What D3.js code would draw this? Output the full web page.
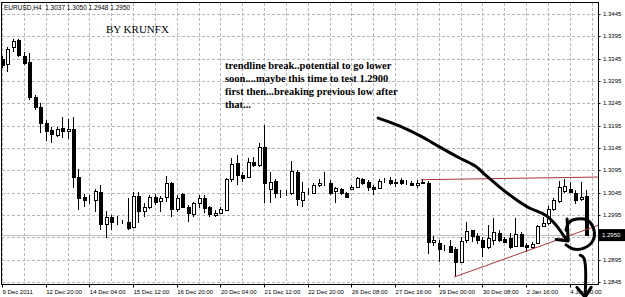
<!DOCTYPE html>
<html>
<head>
<meta charset="utf-8">
<script src="https://cdn.jsdelivr.net/npm/d3@7"></script>
<style>
  body { margin: 0; background: #fff; }
  svg { display: block; }
  .grid line { stroke: #b8b8b8; stroke-dasharray: 3,2; shape-rendering: crispEdges; }
  .axis text { font-family: "Liberation Sans", Arial, sans-serif; font-size: 6px; fill: #000; }
</style>
</head>
<body>
<div id="chart"></div>
<script>
// EURUSD H4, bars 9 Dec 2011 .. 4 Jan 2012
var open = [1.3344,1.3333,1.3371,1.3387,1.3351,1.3337,1.3259,1.3237,1.3201,1.3185,
  1.3174,1.3190,1.3183,1.3187,1.3080,1.3035,1.3031,1.3028,1.3046,1.2975,
  1.2990,1.2979,1.2979,1.2979,1.2968,1.3037,1.3004,1.3013,1.3035,1.3026,
  1.3035,1.3066,1.3008,1.3042,1.3013,1.2997,1.3022,1.3033,1.3013,1.2995,
  1.2999,1.3006,1.3075,1.3111,1.3084,1.3080,1.3113,1.3107,1.3147,1.3053,
  1.3071,1.3046,1.3044,1.3044,1.3091,1.3028,1.3049,1.3044,1.3062,1.3066,
  1.3066,1.3049,1.3053,1.3044,1.3053,1.3057,1.3075,1.3069,1.3057,1.3055,
  1.3071,1.3073,1.3066,1.3073,1.3066,1.3066,1.3062,1.3066,1.3066,1.2934,
  1.2932,1.2923,1.2925,1.2919,1.2889,1.2939,1.2961,1.2948,1.2939,1.2923,
  1.2939,1.2954,1.2941,1.2943,1.2925,1.2952,1.2928,1.2923,1.2932,1.2970,
  1.2977,1.3008,1.3026,1.3049,1.3053,1.3044,1.3031,1.3037];
var high = [1.3351,1.3371,1.3389,1.3389,1.3360,1.3358,1.3264,1.3246,1.3208,1.3192,
  1.3192,1.3214,1.3210,1.3214,1.3098,1.3042,1.3040,1.3053,1.3062,1.3004,
  1.2995,1.2993,1.2984,1.3033,1.3046,1.3046,1.3022,1.3040,1.3042,1.3037,
  1.3082,1.3069,1.3040,1.3044,1.3017,1.3024,1.3040,1.3040,1.3015,1.3006,
  1.3013,1.3078,1.3122,1.3129,1.3091,1.3122,1.3125,1.3156,1.3196,1.3091,
  1.3075,1.3051,1.3051,1.3116,1.3096,1.3069,1.3055,1.3066,1.3075,1.3091,
  1.3073,1.3057,1.3055,1.3046,1.3062,1.3080,1.3078,1.3073,1.3062,1.3075,
  1.3078,1.3080,1.3075,1.3078,1.3073,1.3071,1.3073,1.3075,1.3071,1.2948,
  1.2939,1.2928,1.2939,1.2923,1.2945,1.2979,1.2962,1.2954,1.2945,1.2972,
  1.2988,1.2961,1.2945,1.2954,1.2988,1.2957,1.2932,1.2934,1.2972,1.2990,
  1.3015,1.3033,1.3071,1.3075,1.3069,1.3051,1.3069,1.3050];
var low = [1.3324,1.3315,1.3360,1.3349,1.3331,1.3252,1.3230,1.3178,1.3161,1.3156,
  1.3170,1.3167,1.3165,1.3055,1.3006,1.3013,1.3019,1.3001,1.2961,1.2943,
  1.2961,1.2972,1.2975,1.2961,1.2966,1.2977,1.2990,1.3008,1.3017,1.3001,
  1.3024,1.2990,1.3001,1.3010,1.2979,1.2990,1.3010,1.2999,1.2990,1.2990,
  1.2997,1.3004,1.3069,1.3062,1.3069,1.3078,1.3102,1.3102,1.3022,1.3022,
  1.3033,1.3033,1.3037,1.3040,1.3015,1.3013,1.3040,1.3043,1.3057,1.3060,
  1.3040,1.3022,1.3040,1.3034,1.3051,1.3055,1.3062,1.3049,1.3040,1.3053,
  1.3066,1.3062,1.3057,1.3062,1.3062,1.3060,1.3055,1.3064,1.2907,1.2925,
  1.2889,1.2914,1.2910,1.2856,1.2887,1.2932,1.2934,1.2930,1.2901,1.2919,
  1.2928,1.2934,1.2932,1.2919,1.2923,1.2923,1.2912,1.2919,1.2930,1.2968,
  1.2972,1.3004,1.3022,1.3044,1.3044,1.3019,1.3026,1.2948];
var close = [1.3331,1.3367,1.3385,1.3353,1.3335,1.3259,1.3237,1.3201,1.3183,1.3176,
  1.3187,1.3183,1.3187,1.3080,1.3033,1.3028,1.3030,1.3049,1.2975,1.2990,
  1.2979,1.2980,1.2978,1.2966,1.3037,1.3004,1.3013,1.3035,1.3024,1.3033,
  1.3066,1.3008,1.3033,1.3013,1.2999,1.3022,1.3033,1.3010,1.2997,1.2999,
  1.3008,1.3075,1.3109,1.3084,1.3078,1.3113,1.3107,1.3147,1.3066,1.3069,
  1.3044,1.3045,1.3043,1.3093,1.3031,1.3046,1.3048,1.3062,1.3066,1.3065,
  1.3044,1.3055,1.3044,1.3035,1.3057,1.3078,1.3066,1.3057,1.3053,1.3071,
  1.3070,1.3066,1.3069,1.3066,1.3065,1.3062,1.3066,1.3069,1.2934,1.2939,
  1.2919,1.2922,1.2912,1.2889,1.2937,1.2959,1.2948,1.2939,1.2923,1.2943,
  1.2957,1.2939,1.2934,1.2923,1.2952,1.2925,1.2923,1.2930,1.2970,1.2977,
  1.3008,1.3028,1.3057,1.3060,1.3046,1.3028,1.3035,1.2950];

// one label every 8 bars
var timeLabels = ['9 Dec 2011', '12 Dec 20:00', '14 Dec 04:00', '15 Dec 12:00', '16 Dec 20:00',
  '20 Dec 04:00', '21 Dec 12:00', '22 Dec 20:00', '26 Dec 08:00', '27 Dec 16:00',
  '29 Dec 00:00', '30 Dec 08:00', '2 Jan 16:00', '4 Jan 00:00'];
var priceTicks = [1.3445, 1.3395, 1.3345, 1.3295, 1.3245, 1.3195, 1.3145, 1.3095,
  1.3045, 1.2995, 1.2945, 1.2895, 1.2845];
var lastPrice = 1.2950;
var header = 'EURUSD,H4  1.3037 1.3050 1.2948 1.2950';
var signature = 'BY KRUNFX';
var note = ['trendline break..potential to go lower',
  'soon....maybe this time to test 1.2900',
  'first then...breaking previous low after',
  'that...'];

// drawn objects, as [bar index, price]
var resistance = [[76.7, 1.3074], [109.2, 1.3080]];
var support = [[82.8, 1.2856], [109.2, 1.2972]];
var arrow = [[68.9, 1.3212], [72.9, 1.3194], [76.6, 1.3172], [80.2, 1.3147], [83.9, 1.3122],
  [86.6, 1.3105], [88.8, 1.3082], [91.2, 1.3057], [94.0, 1.3031], [96.7, 1.3010],
  [99.5, 1.2995], [101.5, 1.2972], [102.8, 1.2950], [103.5, 1.2939]];
var arrowHead = [[101.5, 1.2940], [103.7, 1.2937], [103.5, 1.2986]];
var ring = [[103.3, 1.2961], [103.9, 1.2979], [105.3, 1.2986], [107.1, 1.2984], [108.4, 1.2963],
  [108.2, 1.2937], [106.6, 1.2921], [104.6, 1.2919], [103.3, 1.2928]];
var downArrow = [[105.9, 1.2905], [106.6, 1.2898], [106.8, 1.2811]];
var downHead = [[105.3, 1.2833], [106.8, 1.2811], [107.9, 1.2833]];

var width = 625, height = 297;
var plot = { left: 1.5, right: 598.5, top: 2.5, bottom: 284.5 };

var svg = d3.select('#chart').append('svg')
  .attr('width', width)
  .attr('height', height);

var x = d3.scaleLinear().domain([0, open.length - 1]).range([2, 586.2]);
var y = d3.scaleLinear().domain([1.2845, 1.3445]).range([282, 14]);

svg.append('clipPath').attr('id', 'plotclip')
  .append('rect')
  .attr('x', plot.left).attr('y', plot.top)
  .attr('width', plot.right - plot.left).attr('height', plot.bottom - plot.top);

// grid
var grid = svg.append('g').attr('class', 'grid').attr('clip-path', 'url(#plotclip)');
grid.selectAll('.h').data(priceTicks).enter().append('line')
  .attr('x1', plot.left).attr('x2', plot.right)
  .attr('y1', d => Math.round(y(d)) + 0.5).attr('y2', d => Math.round(y(d)) + 0.5);
grid.selectAll('.v').data(d3.range(0, 109, 4)).enter().append('line')
  .attr('x1', d => Math.round(x(d)) + 0.5).attr('x2', d => Math.round(x(d)) + 0.5)
  .attr('y1', plot.top).attr('y2', plot.bottom);

// bid line
svg.append('line')
  .attr('x1', plot.left).attr('x2', plot.right)
  .attr('y1', Math.round(y(lastPrice)) + 0.5).attr('y2', Math.round(y(lastPrice)) + 0.5)
  .attr('stroke', '#c0c0c0');

// candles
var bars = d3.range(open.length);
var candles = svg.append('g').attr('clip-path', 'url(#plotclip)');
candles.selectAll('.wick').data(bars).enter().append('line')
  .attr('x1', i => Math.round(x(i)) + 0.5).attr('x2', i => Math.round(x(i)) + 0.5)
  .attr('y1', i => y(high[i])).attr('y2', i => y(low[i]))
  .attr('stroke', '#000').attr('shape-rendering', 'crispEdges');
candles.selectAll('.body').data(bars).enter().append('rect')
  .attr('x', i => Math.round(x(i)) - 1)
  .attr('y', i => Math.round(y(Math.max(open[i], close[i]))) + 0.5)
  .attr('width', 3)
  .attr('height', i => Math.round(Math.abs(y(open[i]) - y(close[i]))))
  .attr('fill', i => close[i] >= open[i] ? '#fff' : '#000')
  .attr('stroke', '#000')
  .attr('shape-rendering', 'crispEdges');

// drawn trend lines
var line = d3.line().x(d => x(d[0])).y(d => y(d[1]));
var drawn = svg.append('g').attr('clip-path', 'url(#plotclip)');
[resistance, support].forEach(function (pts) {
  drawn.append('path').attr('d', line(pts))
    .attr('fill', 'none').attr('stroke', '#a8383a').attr('stroke-width', 1);
});

// hand drawn marks
var pen = d3.line().x(d => x(d[0])).y(d => y(d[1])).curve(d3.curveCatmullRom);
[arrow, arrowHead, ring, downArrow, downHead].forEach(function (pts) {
  svg.append('path').attr('d', (pts === arrowHead || pts === downHead) ? line(pts) : pen(pts))
    .attr('fill', 'none').attr('stroke', '#000').attr('stroke-width', 3)
    .attr('stroke-linecap', 'round').attr('stroke-linejoin', 'round');
});

// frame
svg.append('rect')
  .attr('x', plot.left).attr('y', plot.top)
  .attr('width', plot.right - plot.left).attr('height', plot.bottom - plot.top)
  .attr('fill', 'none').attr('stroke', '#000');

// price axis (the level under the last-price box is not labelled)
var labelled = priceTicks.filter(d => Math.abs(d - lastPrice) > 0.001);
var yAxis = svg.append('g').attr('class', 'axis');
yAxis.selectAll('text').data(labelled).enter().append('text')
  .attr('x', 603).attr('y', d => y(d)).attr('dy', '0.35em')
  .text(d => d.toFixed(4));
yAxis.selectAll('line').data(priceTicks).enter().append('line')
  .attr('x1', plot.right).attr('x2', plot.right + 2)
  .attr('y1', d => Math.round(y(d)) + 0.5).attr('y2', d => Math.round(y(d)) + 0.5)
  .attr('stroke', '#000');

// last price box
svg.append('rect')
  .attr('x', 599).attr('y', y(lastPrice) - 6).attr('width', 26).attr('height', 12)
  .attr('fill', '#000');
svg.append('text')
  .attr('x', 602).attr('y', y(lastPrice)).attr('dy', '0.35em')
  .attr('font-family', '"Liberation Sans", Arial, sans-serif').attr('font-size', 6)
  .attr('fill', '#fff').text(lastPrice.toFixed(4));

// time axis
var xAxis = svg.append('g').attr('class', 'axis');
xAxis.selectAll('text').data(timeLabels).enter().append('text')
  .attr('x', (d, k) => x(k * 8) + 0.5).attr('y', 294)
  .text(d => d);
xAxis.selectAll('line').data(timeLabels).enter().append('line')
  .attr('x1', (d, k) => Math.round(x(k * 8)) + 0.5).attr('x2', (d, k) => Math.round(x(k * 8)) + 0.5)
  .attr('y1', plot.bottom).attr('y2', plot.bottom + 3)
  .attr('stroke', '#000');

// texts
svg.append('text')
  .attr('x', 4).attr('y', 9.5)
  .attr('font-family', '"Liberation Sans", Arial, sans-serif').attr('font-size', 6.5)
  .attr('xml:space', 'preserve').style('white-space', 'pre')
  .text(header);
svg.append('text')
  .attr('x', 106).attr('y', 33)
  .attr('font-family', '"Liberation Serif", "Times New Roman", serif').attr('font-size', 11)
  .text(signature);
svg.append('g').selectAll('text').data(note).enter().append('text')
  .attr('x', 225).attr('y', (d, k) => 69 + k * 13)
  .attr('font-family', '"Liberation Serif", "Times New Roman", serif')
  .attr('font-size', 10.5).attr('font-weight', 'bold')
  .text(d => d);
</script>
</body>
</html>
